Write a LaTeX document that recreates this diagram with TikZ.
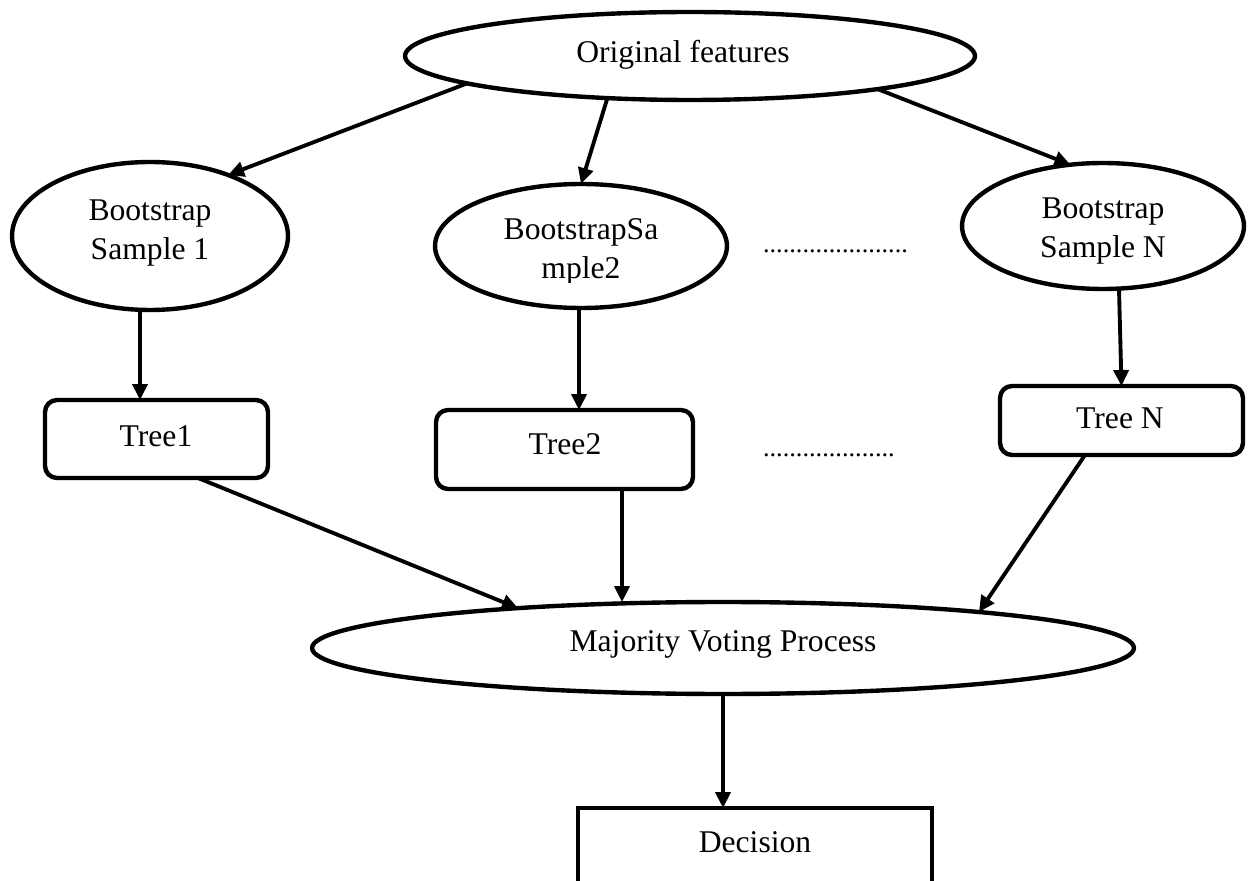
\documentclass[tikz,border=0pt]{standalone}
\usepackage{fontspec}
\setmainfont{Liberation Serif}
\usetikzlibrary{shapes.geometric,arrows.meta}
\begin{document}
\begin{tikzpicture}[x=0.02cm,y=-0.02cm,
  every node/.style={font=\fontsize{18}{22}\selectfont, inner sep=0pt, outer sep=0pt},
  ell/.style={draw, ellipse, line width=2.5pt},
  tbox/.style={draw, rectangle, rounded corners=0.24cm, line width=2.5pt},
  plain/.style={align=center},
  dots/.style={font=\fontsize{15}{18}\selectfont, anchor=base west},
  arr/.style={line width=2.2pt, -{Triangle[length=0.32cm,width=0.3cm]}}
]
\useasboundingbox (0,0) rectangle (1254,881);
\clip (0,0) rectangle (1254,881);

% nodes
\node[ell, minimum width=11.4cm, minimum height=1.76cm] (orig) at (690,56) {};
\node[plain] (origt) at (683,55) {Original features};

\node[ell, minimum width=5.52cm, minimum height=2.96cm] (bs1) at (150,236) {};
\node[plain] (bs1t) at (150,233) {Bootstrap\\Sample 1};

\node[ell, minimum width=5.84cm, minimum height=2.48cm] (bs2) at (581,246) {};
\begin{scope}
  \clip (435,150) rectangle (727,283);
  \node[plain] (bs2t) at (581,252) {BootstrapSa\\mple2};
\end{scope}

\node[ell, minimum width=5.64cm, minimum height=2.52cm] (bsn) at (1103,226) {};
\node[plain] (bsnt) at (1103,231) {Bootstrap\\Sample N};

\node[dots] (dots1) at (763,253) {......................};
\node[dots] (dots2) at (763,457) {....................};

\node[tbox, minimum width=4.46cm, minimum height=1.56cm] (tree1) at (156.5,439) {};
\node[plain] (tree1t) at (156,436) {Tree1};
\node[tbox, minimum width=5.14cm, minimum height=1.58cm] (tree2) at (564.5,449.5) {};
\node[plain] (tree2t) at (565,444) {Tree2};
\node[tbox, minimum width=4.86cm, minimum height=1.38cm] (treen) at (1121.5,420.5) {};
\node[plain] (treent) at (1120,418) {Tree N};

\node[ell, minimum width=16.44cm, minimum height=1.84cm] (maj) at (723,648) {};
\node[plain] (majt) at (723,644) {Majority Voting Process};

\node[draw, rectangle, line width=2.5pt, minimum width=7.08cm, minimum height=2.4cm] (dec) at (755,868) {};
\node[plain] (dect) at (755,842) {Decision};

% connectors
\draw[arr] (orig.187) -- (bs1.38);
\draw[arr] (orig.207) -- (bs2.north);
\draw[arr] (orig.350) -- (bsn.118);

\draw[arr] ([xshift=-0.2cm]bs1.south) -- ([xshift=-0.2cm]bs1.south |- tree1.north);
\draw[arr] ([xshift=-0.04cm]bs2.south) -- ([xshift=-0.04cm]bs2.south |- tree2.north);
\draw[arr] ([xshift=0.32cm]bsn.south) -- (treen.north);

\draw[arr] ([xshift=0.83cm]tree1.south) -- (maj.169);
\draw[arr] ([xshift=1.15cm]tree2.south) -- ([xshift=1.15cm]tree2.south |- maj.north);
\draw[arr] ([xshift=-0.73cm]treen.south) -- (maj.8);

\draw[arr] (maj.south) -- (maj.south |- dec.north);
\end{tikzpicture}
\end{document}
